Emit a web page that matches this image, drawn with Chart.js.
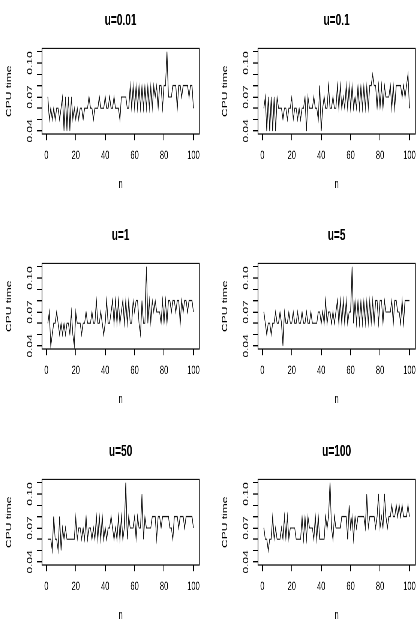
<!DOCTYPE html>
<html>
<head>
<meta charset="utf-8">
<script src="https://cdn.jsdelivr.net/npm/chart.js@4.4.0/dist/chart.umd.min.js"></script>
<style>
html, body { margin: 0; padding: 0; background: #fff; }
body { width: 420px; height: 631px; overflow: hidden; position: relative; }
.panel { position: absolute; width: 280px; height: 179px; transform: scale(0.75, 1.2); transform-origin: 0 0; }
</style>
</head>
<body>
<div class="panel" style="left:0px;top:0px"><canvas id="c0" width="280" height="179"></canvas></div>
<div class="panel" style="left:215.5px;top:0px"><canvas id="c1" width="280" height="179"></canvas></div>
<div class="panel" style="left:0px;top:215px"><canvas id="c2" width="280" height="179"></canvas></div>
<div class="panel" style="left:215.5px;top:215px"><canvas id="c3" width="280" height="179"></canvas></div>
<div class="panel" style="left:0px;top:431px"><canvas id="c4" width="280" height="179"></canvas></div>
<div class="panel" style="left:215.5px;top:431px"><canvas id="c5" width="280" height="179"></canvas></div>
<script>
// run index 1..100
const n = Array.from({ length: 100 }, (_, i) => i + 1);

const titles = ['u=0.01', 'u=0.1', 'u=1', 'u=5', 'u=50', 'u=100'];
const xTicks = [0, 20, 40, 60, 80, 100];
const yTicks = [0.04, 0.05, 0.06, 0.07, 0.08, 0.09, 0.10, 0.11];
const yLabels = [0.04, 0.07, 0.10];

const cpuU001 = [
    0.07, 0.05, 0.06, 0.05, 0.06, 0.05, 0.06, 0.06, 0.05, 0.06,
    0.07, 0.04, 0.07, 0.04, 0.07, 0.04, 0.07, 0.05, 0.06, 0.05,
    0.06, 0.05, 0.06, 0.06, 0.05, 0.06, 0.06, 0.06, 0.07, 0.06,
    0.06, 0.05, 0.06, 0.06, 0.06, 0.07, 0.06, 0.06, 0.06, 0.07,
    0.06, 0.06, 0.07, 0.06, 0.06, 0.07, 0.06, 0.06, 0.06, 0.05,
    0.07, 0.07, 0.07, 0.07, 0.06, 0.06, 0.08, 0.06, 0.08, 0.06,
    0.08, 0.06, 0.08, 0.06, 0.08, 0.06, 0.08, 0.06, 0.08, 0.06,
    0.08, 0.06, 0.08, 0.07, 0.08, 0.06, 0.08, 0.08, 0.06, 0.08,
    0.08, 0.11, 0.07, 0.07, 0.07, 0.08, 0.08, 0.08, 0.06, 0.08,
    0.08, 0.07, 0.08, 0.08, 0.08, 0.08, 0.07, 0.08, 0.08, 0.06
];
const cpuU01 = [
    0.06, 0.07, 0.04, 0.07, 0.04, 0.07, 0.04, 0.07, 0.04, 0.07,
    0.06, 0.06, 0.06, 0.05, 0.06, 0.06, 0.05, 0.06, 0.06, 0.07,
    0.05, 0.06, 0.06, 0.05, 0.06, 0.05, 0.06, 0.06, 0.07, 0.04,
    0.07, 0.06, 0.06, 0.06, 0.07, 0.06, 0.06, 0.05, 0.08, 0.04,
    0.06, 0.07, 0.06, 0.06, 0.08, 0.06, 0.06, 0.07, 0.06, 0.06,
    0.08, 0.06, 0.08, 0.06, 0.07, 0.06, 0.08, 0.06, 0.08, 0.06,
    0.08, 0.06, 0.07, 0.06, 0.08, 0.06, 0.08, 0.06, 0.08, 0.06,
    0.08, 0.06, 0.08, 0.08, 0.09, 0.08, 0.08, 0.06, 0.08, 0.06,
    0.08, 0.06, 0.08, 0.07, 0.07, 0.07, 0.08, 0.06, 0.08, 0.06,
    0.08, 0.08, 0.08, 0.08, 0.07, 0.08, 0.07, 0.08, 0.09, 0.06
];
const cpuU1 = [
    0.06, 0.07, 0.04, 0.05, 0.06, 0.06, 0.07, 0.06, 0.05, 0.06,
    0.05, 0.06, 0.05, 0.06, 0.06, 0.05, 0.07, 0.05, 0.04, 0.07,
    0.06, 0.06, 0.06, 0.05, 0.06, 0.06, 0.07, 0.06, 0.06, 0.06,
    0.07, 0.06, 0.06, 0.08, 0.06, 0.06, 0.07, 0.06, 0.05, 0.06,
    0.08, 0.06, 0.06, 0.07, 0.08, 0.06, 0.08, 0.06, 0.08, 0.06,
    0.07, 0.08, 0.06, 0.08, 0.06, 0.08, 0.06, 0.06, 0.08, 0.07,
    0.08, 0.08, 0.06, 0.05, 0.08, 0.06, 0.06, 0.11, 0.06, 0.08,
    0.06, 0.08, 0.07, 0.08, 0.07, 0.07, 0.07, 0.06, 0.08, 0.06,
    0.08, 0.06, 0.08, 0.08, 0.07, 0.08, 0.08, 0.07, 0.08, 0.08,
    0.06, 0.08, 0.07, 0.08, 0.08, 0.07, 0.08, 0.08, 0.08, 0.07
];
const cpuU5 = [
    0.07, 0.06, 0.05, 0.06, 0.06, 0.05, 0.06, 0.06, 0.07, 0.06,
    0.06, 0.07, 0.06, 0.04, 0.07, 0.06, 0.06, 0.07, 0.06, 0.06,
    0.07, 0.06, 0.06, 0.07, 0.06, 0.06, 0.07, 0.06, 0.06, 0.07,
    0.06, 0.06, 0.07, 0.06, 0.06, 0.06, 0.06, 0.07, 0.07, 0.06,
    0.07, 0.06, 0.08, 0.06, 0.07, 0.07, 0.06, 0.07, 0.06, 0.07,
    0.08, 0.06, 0.08, 0.06, 0.08, 0.06, 0.08, 0.06, 0.07, 0.07,
    0.11, 0.06, 0.08, 0.06, 0.08, 0.06, 0.08, 0.06, 0.08, 0.06,
    0.08, 0.06, 0.08, 0.06, 0.08, 0.06, 0.08, 0.08, 0.06, 0.08,
    0.08, 0.06, 0.08, 0.07, 0.07, 0.07, 0.07, 0.08, 0.06, 0.08,
    0.08, 0.07, 0.07, 0.06, 0.08, 0.06, 0.08, 0.08, 0.08, 0.08
];
const cpuU50 = [
    0.06, 0.06, 0.06, 0.05, 0.08, 0.06, 0.06, 0.05, 0.08, 0.05,
    0.07, 0.06, 0.07, 0.06, 0.06, 0.06, 0.06, 0.06, 0.06, 0.08,
    0.06, 0.07, 0.07, 0.06, 0.07, 0.06, 0.08, 0.06, 0.07, 0.07,
    0.06, 0.07, 0.06, 0.08, 0.06, 0.08, 0.06, 0.08, 0.06, 0.07,
    0.06, 0.07, 0.07, 0.08, 0.07, 0.06, 0.07, 0.06, 0.08, 0.06,
    0.08, 0.06, 0.07, 0.11, 0.06, 0.08, 0.07, 0.07, 0.07, 0.08,
    0.06, 0.08, 0.07, 0.07, 0.10, 0.06, 0.08, 0.07, 0.07, 0.07,
    0.07, 0.08, 0.08, 0.08, 0.06, 0.08, 0.08, 0.07, 0.08, 0.08,
    0.08, 0.08, 0.08, 0.07, 0.07, 0.06, 0.08, 0.08, 0.08, 0.07,
    0.08, 0.08, 0.08, 0.07, 0.08, 0.08, 0.08, 0.08, 0.08, 0.07
];
const cpuU100 = [
    0.07, 0.06, 0.06, 0.05, 0.06, 0.06, 0.08, 0.06, 0.07, 0.06,
    0.06, 0.06, 0.07, 0.06, 0.08, 0.06, 0.08, 0.06, 0.07, 0.07,
    0.07, 0.07, 0.06, 0.06, 0.06, 0.06, 0.08, 0.06, 0.08, 0.06,
    0.08, 0.07, 0.07, 0.07, 0.06, 0.08, 0.06, 0.08, 0.06, 0.06,
    0.06, 0.06, 0.08, 0.07, 0.08, 0.11, 0.07, 0.06, 0.08, 0.07,
    0.07, 0.07, 0.07, 0.08, 0.08, 0.08, 0.08, 0.06, 0.09, 0.07,
    0.08, 0.06, 0.08, 0.07, 0.08, 0.08, 0.08, 0.08, 0.08, 0.07,
    0.10, 0.07, 0.08, 0.08, 0.08, 0.08, 0.07, 0.08, 0.10, 0.07,
    0.08, 0.07, 0.10, 0.08, 0.07, 0.08, 0.08, 0.09, 0.08, 0.08,
    0.09, 0.08, 0.09, 0.08, 0.09, 0.08, 0.08, 0.08, 0.09, 0.08
];

const series = [cpuU001, cpuU01, cpuU1, cpuU5, cpuU50, cpuU100];

const FONT = "'Liberation Sans', Arial, Helvetica, sans-serif";

// R-style box around the plot region plus rotated y tick labels
const boxAndLabels = {
    id: 'boxAndLabels',
    afterDraw(chart) {
        const { ctx, chartArea: a } = chart;
        const y = chart.scales.y;
        ctx.save();
        ctx.strokeStyle = '#000';
        ctx.lineWidth = 1;
        ctx.strokeRect(a.left, a.top, a.right - a.left, a.bottom - a.top);
        ctx.fillStyle = '#000';
        ctx.font = '10px ' + FONT;
        ctx.textAlign = 'center';
        ctx.textBaseline = 'middle';
        yLabels.forEach(v => {
            ctx.save();
            ctx.translate(a.left - 16, y.getPixelForValue(v));
            ctx.rotate(-Math.PI / 2);
            ctx.fillText(v.toFixed(2), 0, 0);
            ctx.restore();
        });
        ctx.restore();
    }
};

function makeChart(id, title, values) {
    new Chart(document.getElementById(id), {
        type: 'line',
        data: {
            datasets: [{
                data: n.map((x, i) => ({ x: x, y: values[i] })),
                borderColor: '#111',
                borderWidth: 0.9,
                pointRadius: 0,
                tension: 0,
                fill: false
            }]
        },
        options: {
            responsive: false,
            animation: false,
            devicePixelRatio: 2,
            layout: { autoPadding: false, padding: { left: 0, right: 14.3, top: 0, bottom: 0 } },
            plugins: {
                legend: { display: false },
                tooltip: { enabled: false },
                title: {
                    display: true,
                    text: title,
                    fullSize: false,
                    color: '#000',
                    font: { family: FONT, size: 13.5, weight: 'bold' },
                    padding: { top: 9.4, bottom: 14.8 }
                }
            },
            scales: {
                x: {
                    type: 'linear',
                    min: -2.96,
                    max: 103.96,
                    afterBuildTicks: s => { s.ticks = xTicks.map(v => ({ value: v })); },
                    afterFit: s => { s.height = 67.3; },
                    ticks: { color: '#000', font: { family: FONT, size: 10 }, padding: 7, maxRotation: 0, autoSkip: false },
                    grid: { drawOnChartArea: false, tickLength: 5, color: '#000' },
                    border: { display: false },
                    title: { display: true, text: 'n', color: '#000', font: { family: FONT, size: 10 }, padding: { top: 0, bottom: 19.25 } }
                },
                y: {
                    min: 0.0372,
                    max: 0.1128,
                    afterBuildTicks: s => { s.ticks = yTicks.map(v => ({ value: v })); },
                    afterFit: s => { s.width = 56; },
                    ticks: { display: false },
                    grid: { drawOnChartArea: false, tickLength: 7, color: '#000' },
                    border: { display: false },
                    title: { display: true, text: 'CPU time', color: '#000', font: { family: FONT, size: 10 }, padding: { top: 6, bottom: 0 } }
                }
            }
        },
        plugins: [boxAndLabels]
    });
}

series.forEach((values, i) => makeChart('c' + i, titles[i], values));
</script>
</body>
</html>
